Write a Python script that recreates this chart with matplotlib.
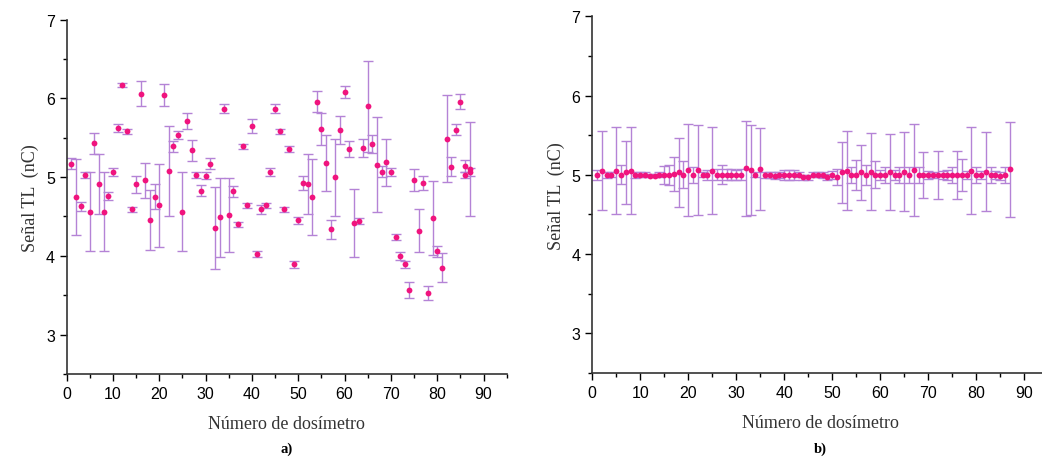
import numpy as np
import matplotlib
matplotlib.use('Agg')
import matplotlib.pyplot as plt
import matplotlib.ticker as plt_ticker

# a) dosimeters before calibration
dos_a = list(range(1, 86)) + [86, 86, 87, 87]
senal_a = [5.17, 4.75, 4.63, 5.03, 4.56, 5.43, 4.91, 4.56, 4.76, 5.07,
           5.62, 6.17, 5.58, 4.59, 4.91, 6.06, 4.96, 4.46, 4.75, 4.64,
           6.04, 5.08, 5.39, 5.53, 4.56, 5.71, 5.34, 5.03, 4.83, 5.02,
           5.17, 4.35, 4.49, 5.87, 4.52, 4.82, 4.40, 5.39, 4.64, 5.65,
           4.02, 4.59, 4.64, 5.07, 5.87, 5.58, 4.59, 5.36, 3.89, 4.45,
           4.93, 4.91, 4.75, 5.96, 5.61, 5.18, 4.34, 5.00, 5.60, 6.08,
           5.36, 4.42, 4.44, 5.37, 5.90, 5.42, 5.16, 5.07, 5.19, 5.07,
           4.24, 4.00, 3.89, 3.57, 4.96, 4.32, 4.93, 3.53, 4.48, 4.06,
           3.85, 5.49, 5.13, 5.60, 5.96, 5.14, 5.03, 5.10, 5.06]
err_a = [0.07, 0.48, 0.055, 0.04, 0.50, 0.13, 0.38, 0.50, 0.05, 0.05,
         0.05, 0.03, 0.03, 0.03, 0.11, 0.16, 0.22, 0.38, 0.16, 0.53,
         0.14, 0.57, 0.07, 0.05, 0.50, 0.10, 0.13, 0.04, 0.07, 0.05,
         0.07, 0.52, 0.50, 0.06, 0.47, 0.07, 0.03, 0.03, 0.03, 0.09,
         0.04, 0.06, 0.03, 0.05, 0.06, 0.03, 0.03, 0.04, 0.04, 0.04,
         0.09, 0.38, 0.48, 0.13, 0.20, 0.36, 0.12, 0.49, 0.18, 0.08,
         0.10, 0.43, 0.04, 0.11, 0.58, 0.11, 0.60, 0.07, 0.30, 0.05,
         0.04, 0.05, 0.05, 0.10, 0.14, 0.27, 0.09, 0.09, 0.47, 0.07,
         0.18, 0.55, 0.12, 0.07, 0.10, 0.08, 0.04, 0.60, 0.05]

# b) dosimeters after calibration
dos_b = list(range(1, 88))
senal_b = [5.00, 5.05, 5.00, 5.00, 5.05, 5.00, 5.03, 5.05, 5.00, 5.00,
           5.00, 4.99, 4.99, 5.00, 5.00, 5.00, 5.01, 5.03, 5.00, 5.06,
           5.00, 5.06, 5.00, 5.00, 5.05, 5.00, 5.00, 5.00, 5.00, 5.00,
           5.00, 5.08, 5.06, 5.00, 5.07, 5.00, 5.00, 4.99, 5.00, 5.00,
           5.00, 5.00, 5.00, 4.97, 4.97, 5.00, 5.00, 5.00, 4.97, 5.00,
           4.97, 5.03, 5.05, 5.00, 5.00, 5.03, 5.00, 5.04, 5.00, 5.00,
           5.00, 5.04, 5.00, 5.00, 5.04, 5.00, 5.06, 5.00, 5.00, 5.00,
           5.00, 5.00, 5.00, 5.00, 5.00, 5.00, 5.00, 5.00, 5.05, 5.00,
           5.00, 5.04, 5.00, 5.00, 4.99, 5.00, 5.07]
err_b = [0.06, 0.50, 0.04, 0.03, 0.55, 0.12, 0.40, 0.55, 0.04, 0.03,
         0.03, 0.02, 0.02, 0.03, 0.11, 0.13, 0.22, 0.43, 0.17, 0.58,
         0.10, 0.57, 0.03, 0.06, 0.55, 0.07, 0.12, 0.07, 0.07, 0.06,
         0.07, 0.60, 0.57, 0.03, 0.52, 0.04, 0.04, 0.04, 0.04, 0.06,
         0.06, 0.06, 0.03, 0.03, 0.03, 0.03, 0.03, 0.04, 0.04, 0.05,
         0.10, 0.39, 0.50, 0.10, 0.19, 0.35, 0.13, 0.49, 0.17, 0.06,
         0.10, 0.48, 0.06, 0.10, 0.50, 0.10, 0.58, 0.10, 0.29, 0.05,
         0.04, 0.30, 0.05, 0.06, 0.10, 0.30, 0.20, 0.05, 0.55, 0.10,
         0.05, 0.50, 0.10, 0.05, 0.05, 0.10, 0.60]

x_ticks = [0, 10, 20, 30, 40, 50, 60, 70, 80, 90]
y_ticks = [3, 4, 5, 6, 7]

punto_color = '#f0147e'
barra_color = '#b483d6'
serif = ['Liberation Serif', 'DejaVu Serif']
sans = ['Liberation Sans', 'DejaVu Sans']

fig = plt.figure(figsize=(10.42, 4.6), dpi=100)
ax_a = fig.add_axes([0.064, 0.185, 0.4223, 0.770])
ax_b = fig.add_axes([0.5684, 0.187, 0.4376, 0.7754])


def plt_panel(ax, x, y, err, letra):
    ax.errorbar(x, y, yerr=err, fmt='none', ecolor=barra_color, elinewidth=1.0,
                capsize=3.5, capthick=1.0, zorder=2)
    ax.plot(x, y, 'o', color=punto_color, markersize=4.2, markeredgewidth=0, zorder=3)

    ax.set_xlim(0, 95)
    ax.set_ylim(2.5, 7)
    ax.set_xticks(x_ticks)
    ax.set_yticks(y_ticks)
    ax.xaxis.set_minor_locator(plt_ticker.MultipleLocator(5))
    ax.yaxis.set_minor_locator(plt_ticker.MultipleLocator(0.5))
    ax.tick_params(which='major', direction='out', length=5, width=1.0, labelsize=11.5)
    ax.tick_params(which='minor', direction='out', length=3, width=1.0)
    for lbl in ax.get_xticklabels() + ax.get_yticklabels():
        lbl.set_family(sans)

    ax.spines['top'].set_visible(False)
    ax.spines['right'].set_visible(False)
    ax.spines['left'].set_linewidth(1.2)
    ax.spines['bottom'].set_linewidth(1.2)
    ax.spines['left'].set_color('#333333')
    ax.spines['bottom'].set_color('#333333')

    ax.set_ylabel('Señal TL  (nC)', family=serif, fontsize=13, color='#333333', labelpad=5)
    ax.set_xlabel('Número de dosímetro', family=serif, fontsize=13, color='#333333', labelpad=10)
    ax.text(0.5, -0.21, letra, transform=ax.transAxes, ha='center', va='center',
            family=serif, fontsize=10.5, fontweight='bold')


plt_panel(ax_a, dos_a, senal_a, err_a, 'a)')
plt_panel(ax_b, dos_b, senal_b, err_b, 'b)')

fig.savefig('out.png', dpi=100)
